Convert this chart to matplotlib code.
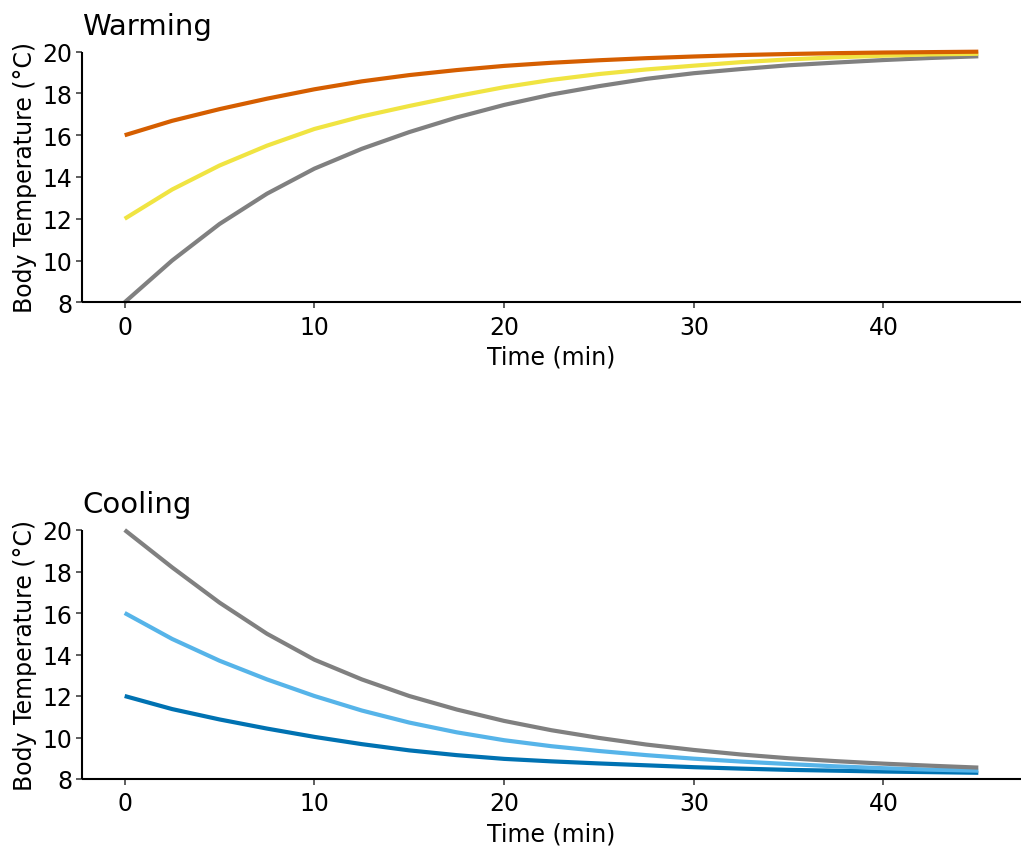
import matplotlib
matplotlib.use("Agg")
import matplotlib.pyplot as plt

# ---- data ----
time_min = [0, 2.5, 5, 7.5, 10, 12.5, 15, 17.5, 20, 22.5, 25, 27.5, 30, 32.5, 35, 37.5, 40, 42.5, 45]

warm_start16 = [16.0, 16.69, 17.25, 17.75, 18.2, 18.58, 18.88, 19.12, 19.32, 19.47, 19.59, 19.69, 19.77,
                19.84, 19.89, 19.93, 19.96, 19.98, 20.0]
warm_start12 = [12.0, 13.4, 14.55, 15.5, 16.3, 16.9, 17.4, 17.87, 18.3, 18.65, 18.93, 19.15, 19.33,
                19.5, 19.63, 19.73, 19.81, 19.87, 19.9]
warm_start8 = [8.0, 10.0, 11.75, 13.2, 14.4, 15.35, 16.15, 16.85, 17.45, 17.95, 18.35, 18.7, 18.97,
               19.17, 19.35, 19.48, 19.6, 19.7, 19.78]

cool_start20 = [20.0, 18.2, 16.5, 15.0, 13.75, 12.8, 12.0, 11.35, 10.8, 10.35, 9.98, 9.66, 9.4,
                9.18, 9.0, 8.86, 8.74, 8.64, 8.55]
cool_start16 = [16.0, 14.75, 13.7, 12.8, 12.0, 11.3, 10.72, 10.25, 9.87, 9.58, 9.35, 9.15, 8.98,
                8.84, 8.72, 8.61, 8.52, 8.45, 8.4]
cool_start12 = [12.0, 11.37, 10.87, 10.43, 10.03, 9.68, 9.38, 9.15, 8.97, 8.85, 8.75, 8.66, 8.57,
                8.5, 8.44, 8.4, 8.36, 8.33, 8.3]

x_ticks = [0, 10, 20, 30, 40]
y_ticks = [8, 10, 12, 14, 16, 18, 20]

warm_series = [(warm_start8, "#808080"), (warm_start12, "#F0E442"), (warm_start16, "#D55E00")]
cool_series = [(cool_start12, "#0072B2"), (cool_start16, "#56B4E9"), (cool_start20, "#808080")]

W, H = 1021, 854
fig = plt.figure(figsize=(W / 100, H / 100), dpi=100)


def px_axes(left, top, right, bottom):
    return fig.add_axes([left / W, 1 - bottom / H, (right - left) / W, (bottom - top) / H])


def style(ax, title):
    for s in ["top", "right"]:
        ax.spines[s].set_visible(False)
    for s in ["left", "bottom"]:
        ax.spines[s].set_linewidth(1.5)
        ax.spines[s].set_color("black")
        ax.spines[s].set_capstyle("butt")
    ax.set_xlim(-2.25, 47.25)
    ax.set_ylim(8, 20)
    ax.set_xticks(x_ticks)
    ax.set_yticks(y_ticks)
    ax.tick_params(axis="both", labelsize=17, length=4, width=1.1, color="#333333",
                   labelcolor="black")
    ax.tick_params(axis="x", pad=5)
    ax.tick_params(axis="y", pad=3)
    ax.set_xlabel("Time (min)", fontsize=17, labelpad=4)
    ax.set_ylabel("Body Temperature (\u00b0C)", fontsize=17, labelpad=4)
    ax.set_title(title, loc="left", fontsize=21, pad=13, x=0.0)
    ax.set_facecolor("white")


ax1 = px_axes(82, 52.7, 1021, 303.3)
for ys, c in warm_series:
    ax1.plot(time_min, ys, color=c, lw=3, solid_capstyle="butt", clip_on=False)
style(ax1, "Warming")

ax2 = px_axes(82, 531, 1021, 780)
for ys, c in cool_series:
    ax2.plot(time_min, ys, color=c, lw=3, solid_capstyle="butt", clip_on=False)
style(ax2, "Cooling")

fig.savefig("out.png", dpi=100, facecolor="white")
